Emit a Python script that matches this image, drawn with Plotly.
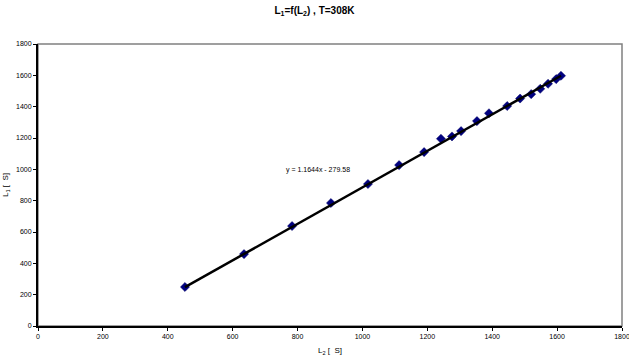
import plotly.graph_objects as go
import numpy as np

# Data
L2 = [453, 635, 783, 903, 1017, 1113, 1190, 1242, 1276, 1304, 1353, 1390, 1446, 1486, 1520, 1548, 1572, 1597, 1612]
L1 = [249, 459, 638, 785, 906, 1027, 1110, 1195, 1210, 1244, 1308, 1358, 1404, 1452, 1480, 1514, 1546, 1576, 1597]
slope = 1.1644
intercept = -279.58
tick_vals = [0, 200, 400, 600, 800, 1000, 1200, 1400, 1600, 1800]

xs = np.array([min(L2), max(L2)])
ys = slope * xs + intercept

fig = go.Figure()
fig.add_trace(go.Scatter(
    x=L2, y=L1, mode="markers",
    marker=dict(symbol="diamond", size=7, color="#000080", line=dict(color="#000060", width=0.5)),
    showlegend=False, hoverinfo="skip"))
fig.add_trace(go.Scatter(
    x=xs, y=ys, mode="lines", line=dict(color="black", width=2.5),
    showlegend=False, hoverinfo="skip"))

axis_common = dict(
    range=[0, 1800], tickvals=tick_vals, showgrid=False, zeroline=False,
    showline=True, linecolor="black", linewidth=2, ticks="outside",
    ticklen=3, tickwidth=1, tickcolor="black", automargin=False,
    ticklabeloverflow="allow",
    tickfont=dict(family="Liberation Sans, Arial", size=7, color="black"))

fig.update_layout(
    width=629, height=363,
    margin=dict(l=38, r=7, t=44, b=37),
    paper_bgcolor="white", plot_bgcolor="white",
    title=dict(text="<b>L<sub>1</sub>=f(L<sub>2</sub>) , T=308K</b>", x=0.5, xanchor="center",
               y=0.97, yanchor="middle",
               font=dict(family="Liberation Sans, Arial", size=10, color="black")),
    xaxis=dict(axis_common, title=dict(text="L<sub>2</sub> [  S]", standoff=8,
               font=dict(family="Liberation Sans, Arial", size=8, color="black"))),
    yaxis=dict(axis_common, title=dict(text="L<sub>1</sub> [  S]", standoff=6,
               font=dict(family="Liberation Sans, Arial", size=8, color="black"))),
    shapes=[dict(type="rect", xref="paper", yref="paper", x0=0, x1=1, y0=0, y1=1,
                 line=dict(color="#808080", width=1.5), layer="below")],
    annotations=[dict(x=863, y=995, xref="x", yref="y", text="y = 1.1644x - 279.58",
                      showarrow=False, font=dict(family="Liberation Sans, Arial", size=7, color="black"))],
)

fig.write_html("out.html", config={"displayModeBar": False},
               post_script="document.body.style.margin='0';")
